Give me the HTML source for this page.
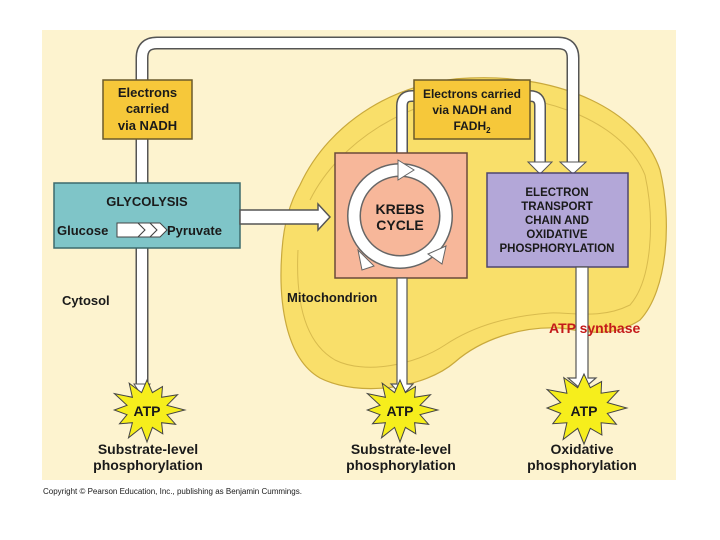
<!DOCTYPE html>
<html><head><meta charset="utf-8"><style>
body{margin:0;background:#fff;width:720px;height:540px;overflow:hidden}
svg{display:block}
text{font-family:"Liberation Sans",Arial,sans-serif;font-weight:bold;fill:#1a1a1a}
</style></head><body>
<svg width="720" height="540" viewBox="0 0 720 540">
<rect x="42" y="30" width="634" height="450" fill="#fdf3cf"/>
<path d="M300,185 C330,120 400,80 470,78 C560,74 640,110 660,170 C672,220 668,290 640,320 C610,340 580,330 560,328 C520,326 480,340 455,362 C425,388 360,398 320,378 C285,358 278,300 282,250 C284,222 290,202 300,185 Z" fill="#f9df6a" stroke="#c9a93c" stroke-width="1.2"/>
<path d="M310,200 C340,140 410,100 470,96 C550,92 625,125 645,175 C655,220 652,280 630,305 C600,320 570,312 550,313 C510,316 475,325 445,345 C415,365 365,375 335,360 C300,340 296,290 298,250" fill="none" stroke="#d8bb4e" stroke-width="1"/>
<text x="43" y="494" font-size="8" style="font-weight:normal">Copyright © Pearson Education, Inc., publishing as Benjamin Cummings.</text>
<path d="M142,385 V58 Q142,43 157,43 H558 Q573,43 573,58 V165" fill="none" stroke="#555" stroke-width="13"/>
<path d="M142,385 V58 Q142,43 157,43 H558 Q573,43 573,58 V165" fill="none" stroke="#fff" stroke-width="10"/>
<polygon points="134,384 150,384 142,396" fill="#fff" stroke="#555"/>
<polygon points="560,162 586,162 573,174" fill="#fff" stroke="#555"/>
<path d="M402,153 V106 Q402,96 412,96 H530 Q540,96 540,106 V165" fill="none" stroke="#555" stroke-width="12"/>
<path d="M402,153 V106 Q402,96 412,96 H530 Q540,96 540,106 V165" fill="none" stroke="#fff" stroke-width="9"/>
<polygon points="528,162 552,162 540,174" fill="#fff" stroke="#555"/>
<rect x="103" y="80" width="89" height="59" fill="#f6c83a" stroke="#6b5a2a" stroke-width="1.5"/>
<text x="147.5" y="97" font-size="13" text-anchor="middle">Electrons</text>
<text x="147.5" y="113" font-size="13" text-anchor="middle">carried</text>
<text x="147.5" y="130" font-size="13" text-anchor="middle">via NADH</text>
<rect x="414" y="80" width="116" height="59" fill="#f6c83a" stroke="#6b5a2a" stroke-width="1.5"/>
<text x="472" y="98" font-size="12" text-anchor="middle">Electrons carried</text>
<text x="472" y="114" font-size="12" text-anchor="middle">via NADH and</text>
<text x="472" y="130" font-size="12" text-anchor="middle">FADH<tspan font-size="8" dy="3">2</tspan></text>
<rect x="54" y="183" width="186" height="65" fill="#7fc5c8" stroke="#3d6b6d" stroke-width="1.5"/>
<text x="147" y="206" font-size="13" text-anchor="middle">GLYCOLYSIS</text>
<text x="57" y="235" font-size="13">Glucose</text>
<text x="167" y="235" font-size="13">Pyruvate</text>
<polygon points="117,223 138,223 145,230 138,237 117,237" fill="#fff" stroke="#444"/>
<polygon points="138,223 150,223 157,230 150,237 138,237 145,230" fill="#fff" stroke="#444"/>
<polygon points="150,223 160,223 167,230 160,237 150,237 157,230" fill="#fff" stroke="#444"/>
<polygon points="240,210 318,210 318,204 330,217 318,230 318,224 240,224" fill="#fff" stroke="#555" stroke-width="1.5"/>
<rect x="335" y="153" width="132" height="125" fill="#f7b79a" stroke="#6b4a3a" stroke-width="1.5"/>
<circle cx="400" cy="216" r="46" fill="none" stroke="#666" stroke-width="14"/>
<circle cx="400" cy="216" r="46" fill="none" stroke="#fff" stroke-width="11"/>
<polygon points="398,160 414,170 398,180" fill="#fff" stroke="#666"/>
<polygon points="446,246 442,264 428,254" fill="#fff" stroke="#666"/>
<polygon points="358,250 374,266 362,270" fill="#fff" stroke="#666"/>
<text x="400" y="214" font-size="14" text-anchor="middle">KREBS</text>
<text x="400" y="230" font-size="14" text-anchor="middle">CYCLE</text>
<rect x="487" y="173" width="141" height="94" fill="#b3a7d8" stroke="#4e4670" stroke-width="1.5"/>
<text x="557" y="196" font-size="11.5" text-anchor="middle">ELECTRON</text>
<text x="557" y="210" font-size="11.5" text-anchor="middle">TRANSPORT</text>
<text x="557" y="224" font-size="11.5" text-anchor="middle">CHAIN AND</text>
<text x="557" y="238" font-size="11.5" text-anchor="middle">OXIDATIVE</text>
<text x="557" y="252" font-size="11.5" text-anchor="middle">PHOSPHORYLATION</text>
<polygon points="397,278 407,278 407,384 413,384 402,396 391,384 397,384" fill="#fff" stroke="#555" stroke-width="1.2"/>
<polygon points="576,267 588,267 588,378 596,378 582,390 568,378 576,378" fill="#fff" stroke="#555" stroke-width="1.2"/>
<text x="62" y="305" font-size="13">Cytosol</text>
<text x="287" y="302" font-size="13">Mitochondrion</text>
<polygon id="s1" fill="#f6ee1c" stroke="#444" stroke-width="1"/>
<polygon id="s2" fill="#f6ee1c" stroke="#444" stroke-width="1"/>
<polygon id="s3" fill="#f6ee1c" stroke="#444" stroke-width="1"/>
<text x="549" y="333" font-size="14" style="fill:#c41a1a">ATP  synthase</text>
<text x="147" y="416" font-size="14" text-anchor="middle">ATP</text>
<text x="400" y="416" font-size="14" text-anchor="middle">ATP</text>
<text x="584" y="416" font-size="14" text-anchor="middle">ATP</text>
<text x="148" y="454" font-size="14" text-anchor="middle">Substrate-level</text>
<text x="148" y="470" font-size="14" text-anchor="middle">phosphorylation</text>
<text x="401" y="454" font-size="14" text-anchor="middle">Substrate-level</text>
<text x="401" y="470" font-size="14" text-anchor="middle">phosphorylation</text>
<text x="582" y="454" font-size="14" text-anchor="middle">Oxidative</text>
<text x="582" y="470" font-size="14" text-anchor="middle">phosphorylation</text>
</svg>
<script>
function star(id,cx,cy,ro,ri,n){var p=[];for(var i=0;i<2*n;i++){var r=i%2?ri:ro*(1+0.1*Math.sin(i*2.3));var a=Math.PI*i/n-Math.PI/2;p.push((cx+r*Math.cos(a)*1.15).toFixed(1)+","+(cy+r*Math.sin(a)).toFixed(1));}document.getElementById(id).setAttribute("points",p.join(" "));}
star("s1",147,410,30,18,12);star("s2",400,410,30,18,12);star("s3",584,408,34,21,12);
</script>
</body></html>
